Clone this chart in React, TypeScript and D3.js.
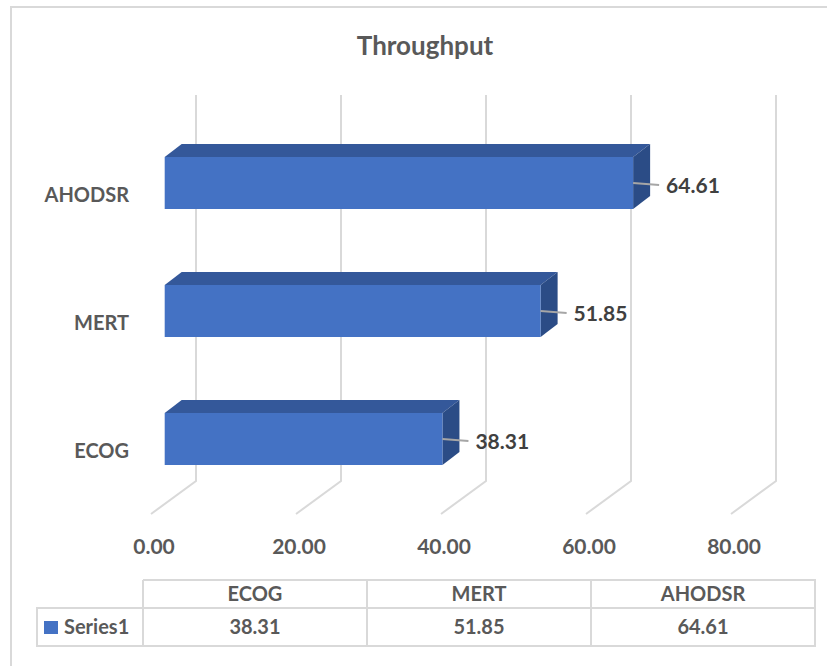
import React from "react";
import * as d3 from "d3";

const categories = ["ECOG", "MERT", "AHODSR"];
const values = [38.31, 51.85, 64.61];
const tickValues = [0, 20, 40, 60, 80];
const seriesName = "Series1";
const title = "Throughput";

const W = 827;
const H = 666;
const FONT = "Lato, 'Noto Sans', sans-serif";
const TXT = "#595959";
const GRID = "#d9d9d9";

export default function App() {
  const domain: [number, number] = [0, 80];
  const xBack = d3.scaleLinear().domain(domain).range([196, 776]);
  const xBar = d3.scaleLinear().domain(domain).range([164.7, 744.7]);
  const xFront = d3.scaleLinear().domain(domain).range([151, 731]);
  const order = categories.slice().reverse();
  const yC = d3.scalePoint<string>().domain(order).range([183, 439]);
  const barH = 52;
  const dX = 17, dY = -13;
  const backTop = 95, backBot = 481, frontBot = 514;

  const colX = d3.scaleBand<string>().domain(categories).range([143, 815]);
  const tblTop = 580, tblMid = 608, tblBot = 646, tblLeft = 37;

  return (
    <svg width={W} height={H} style={{ position: "absolute", left: 0, top: 0, background: "#fff" }}>
      <rect x={0} y={0} width={W} height={H} fill="#fff" />
      {/* chart border */}
      <path d={`M11,${H + 5} L11,7 L${W + 5},7`} fill="none" stroke={GRID} strokeWidth={2} />
      <text x={425} y={55} textAnchor="middle" fontFamily={FONT} fontWeight="bold" fontSize={26} fill={TXT}>
        {title}
      </text>
      {/* gridlines */}
      {tickValues.map((t) => (
        <g key={t}>
          <path
            d={`M${xBack(t)},${backTop} L${xBack(t)},${backBot} L${xFront(t)},${frontBot}`}
            fill="none"
            stroke={GRID}
            strokeWidth={2}
          />
          <text
            x={xFront(t) + 3}
            y={554}
            textAnchor="middle"
            fontFamily={FONT}
            fontWeight="bold"
            fontSize={21}
            fill={TXT}
          >
            {d3.format(".2f")(t)}
          </text>
        </g>
      ))}
      {/* bars */}
      {categories.map((c, i) => {
        const v = values[i];
        const x0 = xBar(0);
        const x1 = xBar(v);
        const yTop = (yC(c) as number) - barH / 2;
        const yBot = yTop + barH;
        const cy = yC(c) as number;
        return (
          <g key={c}>
            <path
              d={`M${x0},${yTop} L${x0 + dX},${yTop + dY} L${x1 + dX},${yTop + dY} L${x1},${yTop} Z`}
              fill="#34589A"
            />
            <path
              d={`M${x1},${yTop} L${x1 + dX},${yTop + dY} L${x1 + dX},${yBot + dY} L${x1},${yBot} Z`}
              fill="#2B4C86"
            />
            <rect x={x0} y={yTop} width={x1 - x0} height={barH} fill="#4472C4" />
            <line x1={x1} y1={cy} x2={x1 + 26} y2={cy + 2} stroke="#a6a6a6" strokeWidth={2} />
            <text
              x={x1 + 33}
              y={cy + 10}
              fontFamily={FONT}
              fontWeight="bold"
              fontSize={21}
              fill="#404040"
            >
              {d3.format(".2f")(v)}
            </text>
            <text
              x={129}
              y={cy + 19}
              textAnchor="end"
              fontFamily={FONT}
              fontWeight="bold"
              fontSize={20}
              fill={TXT}
            >
              {c}
            </text>
          </g>
        );
      })}
      {/* data table */}
      <g fill="none" stroke={GRID} strokeWidth={2}>
        <path d={`M143,${tblTop} L815,${tblTop} L815,${tblBot} L${tblLeft},${tblBot} L${tblLeft},${tblMid} L815,${tblMid}`} />
        {categories.map((c) => (
          <line key={c} x1={colX(c)} y1={tblTop} x2={colX(c)} y2={tblBot} />
        ))}
      </g>
      <rect x={44} y={621} width={14} height={13} fill="#4472C4" />
      <text x={64} y={634} fontFamily={FONT} fontWeight="bold" fontSize={20} fill={TXT}>
        {seriesName}
      </text>
      {categories.map((c, i) => (
        <g key={c}>
          <text
            x={(colX(c) as number) + colX.bandwidth() / 2}
            y={601}
            textAnchor="middle"
            fontFamily={FONT}
            fontWeight="bold"
            fontSize={20}
            fill={TXT}
          >
            {c}
          </text>
          <text
            x={(colX(c) as number) + colX.bandwidth() / 2}
            y={634}
            textAnchor="middle"
            fontFamily={FONT}
            fontWeight="bold"
            fontSize={20}
            fill={TXT}
          >
            {d3.format(".2f")(values[i])}
          </text>
        </g>
      ))}
    </svg>
  );
}
